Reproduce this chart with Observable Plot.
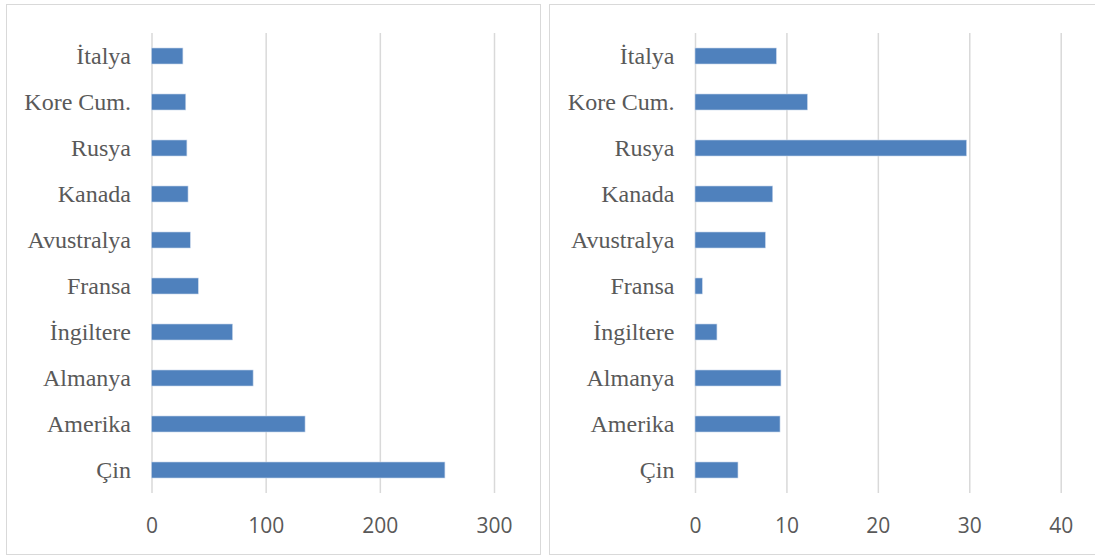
<!DOCTYPE html>
<html>
<head>
<meta charset="utf-8">
<script src="https://cdn.jsdelivr.net/npm/d3@7"></script>
<script src="https://cdn.jsdelivr.net/npm/@observablehq/plot@0.6"></script>
<style>
  html, body { margin: 0; padding: 0; background: #fff; }
  body { width: 1095px; height: 556px; position: relative; overflow: hidden; }
  .panel { position: absolute; box-sizing: border-box; border: 1px solid #d9d9d9; background: #fff; }
  #p1 { left: 6px; top: 4px; width: 535px; height: 551px; }
  #p2 { left: 549px; top: 4px; width: 560px; height: 551px; border-right: none; }
  .panel svg { display: block; overflow: visible; }
</style>
</head>
<body>
<div id="p1" class="panel"></div>
<div id="p2" class="panel"></div>
<script>
// Categories (top to bottom as shown)
const countries = ["İtalya", "Kore Cum.", "Rusya", "Kanada", "Avustralya", "Fransa", "İngiltere", "Almanya", "Amerika", "Çin"];
// Left chart values
const leftValues = [27.5, 30, 31, 32, 34, 41, 71, 89, 134.5, 257];
// Right chart values
const rightValues = [8.9, 12.3, 29.7, 8.5, 7.7, 0.8, 2.4, 9.4, 9.3, 4.7];
// Tick labels
const leftTicks = [0, 100, 200, 300];
const rightTicks = [0, 10, 20, 30, 40];

function makeChart(values, ticks, width, marginLeft, marginRight) {
  const data = countries.map((c, i) => ({country: c, value: values[i]}));
  return Plot.plot({
    width,
    height: 549,
    marginTop: 28,
    marginBottom: 61,
    marginLeft,
    marginRight,
    style: {background: "transparent", overflow: "visible"},
    x: {domain: [ticks[0], ticks[ticks.length - 1]], ticks},
    y: {domain: countries, paddingInner: 0.65, paddingOuter: 0.325, align: 0.5},
    marks: [
      Plot.ruleX(ticks, {stroke: "#d9d9d9", strokeWidth: 1.5}),
      Plot.barX(data, {x: "value", y: "country", fill: "#4f81bd", stroke: "#c6d5ea", strokeWidth: 0.6}),
      Plot.axisX({ticks, tickSize: 0, tickPadding: 25, fontSize: 21, fill: "#595959",
        fontFamily: "'Open Sans', sans-serif", label: null}),
      Plot.axisY({tickSize: 0, tickPadding: 21, fontSize: 24, fill: "#595959",
        fontFamily: "'Liberation Serif', 'Times New Roman', serif", label: null})
    ]
  });
}

document.getElementById("p1").appendChild(makeChart(leftValues, leftTicks, 533, 144.5, 46));
document.getElementById("p2").appendChild(makeChart(rightValues, rightTicks, 545, 145, 34.3));
</script>
</body>
</html>
